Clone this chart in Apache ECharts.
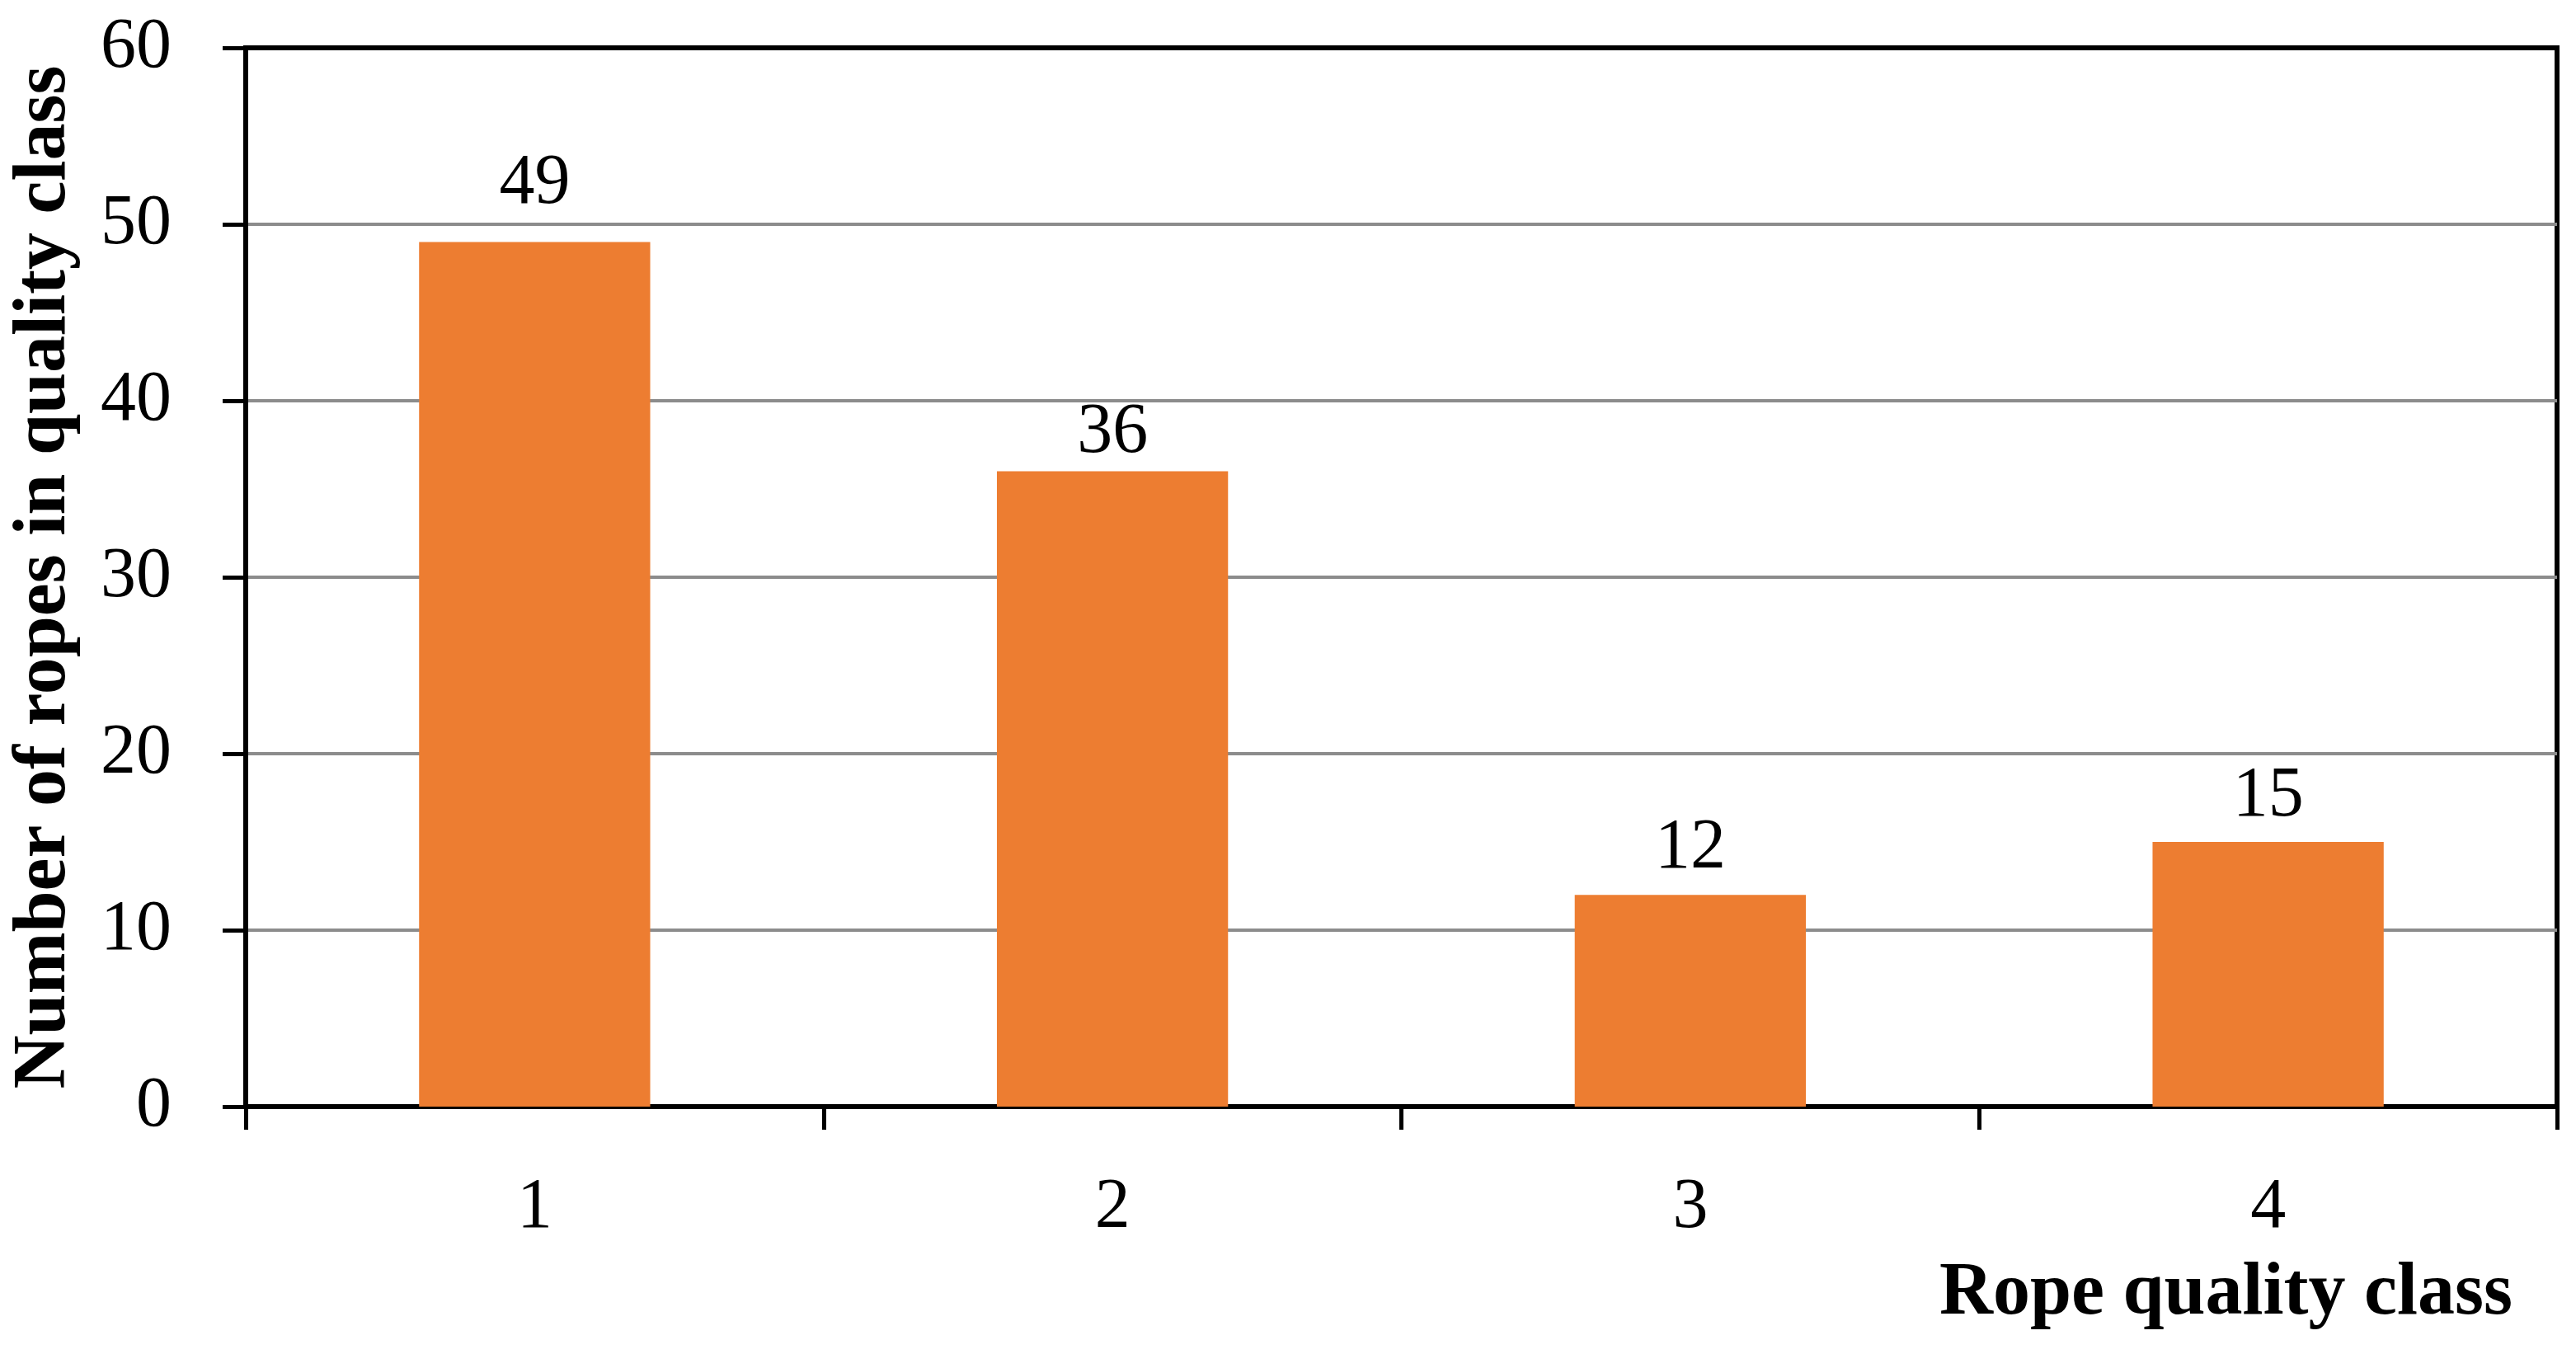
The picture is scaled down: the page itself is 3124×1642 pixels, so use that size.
<!DOCTYPE html>
<html><head><meta charset="utf-8">
<script src="https://cdn.jsdelivr.net/npm/echarts@6/dist/echarts.min.js"></script>
<style>html,body{margin:0;padding:0;background:#fff}#c{width:3124px;height:1642px}</style>
</head><body><div id="c"></div>
<script>
const categories = ['1', '2', '3', '4'];
const ropeCounts = [49, 36, 12, 15];
const yTicks = [0, 10, 20, 30, 40, 50, 60];
const xTitle = 'Rope quality class';
const yTitle = 'Number of ropes in quality class';

const FONT = '"Liberation Serif", "DejaVu Serif", serif';
// label gaps above each bar (styling, as in the reference)
const labelGap = [27, 3, 13, 12];
const chart = echarts.init(document.getElementById('c'));
chart.setOption({
  backgroundColor: '#ffffff',
  animation: false,
  title: {
    text: xTitle, right: 72, top: 1520,
    textStyle: { fontFamily: FONT, fontWeight: 'bold', fontSize: 90, color: '#000' }
  },
  grid: {
    left: 298, right: 23, top: 58, bottom: 300,
    show: true, borderColor: '#000', borderWidth: 6, backgroundColor: 'transparent'
  },
  xAxis: {
    type: 'category', data: categories, boundaryGap: true,
    axisLine: { lineStyle: { color: '#000', width: 6 } },
    axisTick: { show: true, length: 28, inside: false, lineStyle: { color: '#000', width: 5 } },
    axisLabel: { margin: 80, fontFamily: FONT, fontSize: 86, color: '#000' }
  },
  yAxis: {
    type: 'value', min: yTicks[0], max: yTicks[yTicks.length - 1], interval: 10,
    name: yTitle, nameLocation: 'middle', nameGap: 198,
    nameTextStyle: { fontFamily: FONT, fontWeight: 'bold', fontSize: 90, color: '#000' },
    axisLine: { show: true, lineStyle: { color: '#000', width: 6 } },
    axisTick: { show: true, length: 28, lineStyle: { color: '#000', width: 5 } },
    axisLabel: { margin: 90, fontFamily: FONT, fontSize: 86, color: '#000' },
    splitLine: { show: true, showMaxLine: false, showMinLine: false, lineStyle: { color: '#8c8c8c', width: 4 } }
  },
  series: [{
    type: 'bar',
    data: ropeCounts.map((v, i) => ({ value: v, label: { distance: labelGap[i] } })),
    barWidth: '40%',
    itemStyle: { color: '#ED7D31' },
    label: { show: true, position: 'top', distance: 22, fontFamily: FONT, fontSize: 86, color: '#000' }
  }]
});
</script></body></html>
